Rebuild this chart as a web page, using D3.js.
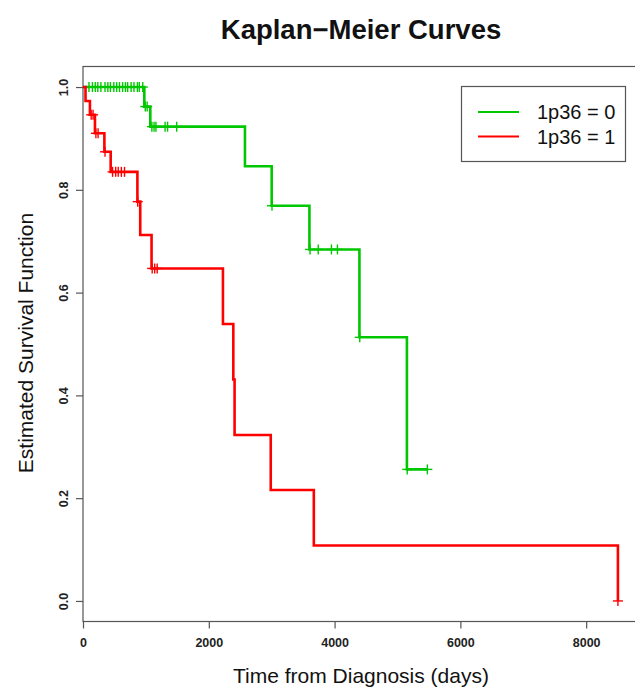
<!DOCTYPE html>
<html>
<head>
<meta charset="utf-8">
<script src="https://cdn.jsdelivr.net/npm/d3@7"></script>
<style>
  body { margin: 0; background: #fff; }
  svg { display: block; font-family: "Liberation Sans", Arial, sans-serif; }
</style>
</head>
<body>
<svg id="chart" width="635" height="689"></svg>
<script>
// ---- data ----
const groupNames = ["1p36 = 0", "1p36 = 1"];
const groupColors = ["#00c800", "#ff0000"];

const greenTimes = [0, 975, 1070, 2575, 3000, 3600, 4395, 5150, 5475];
const greenSurv  = [1, 0.962, 0.923, 0.846, 0.769, 0.684, 0.513, 0.256, 0.256];
const greenCensor = [95, 150, 195, 235, 285, 350, 395, 435, 490, 535, 580, 630, 675, 710, 765, 810, 865, 895, 950,
                     990, 1020, 1095, 1130, 1160, 1305, 1345, 1490, 3005, 3610, 3740, 3950, 4045, 4400, 5155, 5475];

const redTimes = [0, 40, 110, 190, 340, 440, 865, 910, 1090, 2225, 2390, 2410, 2985, 3670, 8505];
const redSurv  = [1, 0.973, 0.946, 0.910, 0.874, 0.835, 0.777, 0.712, 0.647, 0.539, 0.431, 0.323, 0.216, 0.108, 0];
const redCensor = [130, 160, 205, 240, 350, 470, 520, 560, 610, 660, 870, 1100, 1140, 1180, 8505];

const xTicks = [0, 2000, 4000, 6000, 8000];
const yTicks = [0, 0.2, 0.4, 0.6, 0.8, 1.0];

// ---- layout ----
const svg = d3.select("#chart");
const mLeft = 83, mRight = 639, mTop = 66.5, mBottom = 621.5;
const x = d3.scaleLinear().domain([0, 8840]).range([mLeft, mRight]);
const y = d3.scaleLinear().domain([-0.04, 1.04]).range([mBottom, mTop]);

// frame
svg.append("rect").attr("x", mLeft).attr("y", mTop).attr("width", mRight - mLeft).attr("height", mBottom - mTop)
  .attr("fill", "none").attr("stroke", "#555").attr("stroke-width", 1.2);

// x axis
const xAxis = svg.append("g").attr("transform", `translate(0,${mBottom})`)
  .call(d3.axisBottom(x).tickValues(xTicks).tickSize(7).tickPadding(10).tickFormat(d3.format("d")));
xAxis.select(".domain").remove();
xAxis.selectAll("line").attr("stroke", "#555").attr("stroke-width", 1.2);
xAxis.selectAll("text").attr("font-size", 12.5).attr("font-weight", "bold").attr("fill", "#222")
  .attr("font-family", "Liberation Sans, Arial, sans-serif");

// y axis
const yAxis = svg.append("g").attr("transform", `translate(${mLeft},0)`)
  .call(d3.axisLeft(y).tickValues(yTicks).tickSize(7).tickFormat(d3.format(".1f")));
yAxis.select(".domain").remove();
yAxis.selectAll("line").attr("stroke", "#555").attr("stroke-width", 1.2);
yAxis.selectAll("text")
  .attr("font-size", 12.5).attr("font-weight", "bold").attr("fill", "#222")
  .attr("font-family", "Liberation Sans, Arial, sans-serif")
  .attr("x", null).attr("dy", null)
  .attr("text-anchor", "middle")
  .attr("transform", "translate(-15,0) rotate(-90)");

// titles
svg.append("text").attr("x", 361).attr("y", 39).attr("text-anchor", "middle")
  .attr("font-size", 27.5).attr("font-weight", "bold").attr("fill", "#111").text("Kaplan\u2212Meier Curves");
svg.append("text").attr("x", 361).attr("y", 683).attr("text-anchor", "middle")
  .attr("font-size", 21).attr("fill", "#111").text("Time from Diagnosis (days)");
svg.append("text").attr("transform", "translate(33,343) rotate(-90)").attr("text-anchor", "middle")
  .attr("font-size", 21).attr("fill", "#111").text("Estimated Survival Function");

// curves
const groups = [
  {times: greenTimes, surv: greenSurv, censor: greenCensor, color: groupColors[0]},
  {times: redTimes, surv: redSurv, censor: redCensor, color: groupColors[1]}
];
const line = d3.line().x(d => x(d[0])).y(d => y(d[1])).curve(d3.curveStepAfter);
const plot = svg.append("g");

groups.forEach(g => {
  const pts = g.times.map((t, i) => [t, g.surv[i]]);
  plot.append("path").attr("d", line(pts)).attr("fill", "none")
    .attr("stroke", g.color).attr("stroke-width", 2.6);
  const survAt = t => { let s = 1; g.times.forEach((tt, i) => { if (tt <= t) s = g.surv[i]; }); return s; };
  const cg = plot.append("g").attr("stroke", g.color).attr("stroke-width", 1.4);
  g.censor.forEach(t => {
    const cx = x(t), cy = y(survAt(t));
    cg.append("line").attr("x1", cx - 5).attr("x2", cx + 5).attr("y1", cy).attr("y2", cy);
    cg.append("line").attr("x1", cx).attr("x2", cx).attr("y1", cy - 5).attr("y2", cy + 5);
  });
});

// legend
const lg = svg.append("g");
lg.append("rect").attr("x", 461.5).attr("y", 86.5).attr("width", 164).attr("height", 75)
  .attr("fill", "#fff").attr("stroke", "#555").attr("stroke-width", 1.2);
groupNames.forEach((name, i) => {
  const ly = 112 + i * 24.5;
  lg.append("line").attr("x1", 478).attr("x2", 519).attr("y1", ly).attr("y2", ly)
    .attr("stroke", groupColors[i]).attr("stroke-width", 2);
  lg.append("text").attr("x", 537).attr("y", ly + 7).attr("font-size", 20)
    .attr("fill", "#111").text(name);
});
</script>
</body>
</html>
